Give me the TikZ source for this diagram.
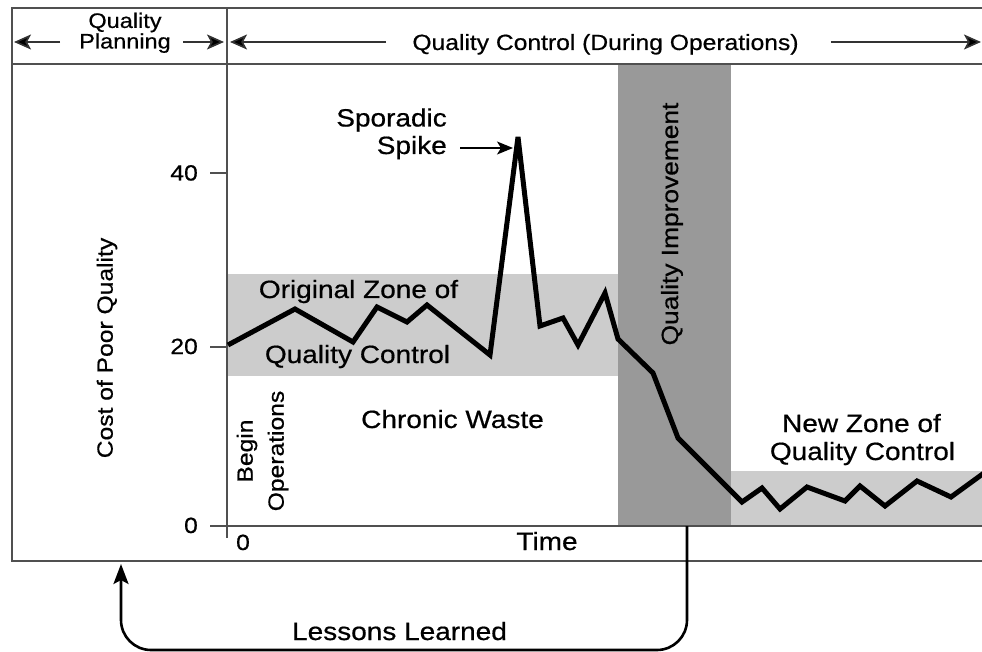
\documentclass[tikz,border=0pt]{standalone}
\usepackage{fontspec}
\setmainfont{Liberation Sans}[FakeStretch=1.12,FakeBold=0.6]
\usetikzlibrary{arrows.meta}
\definecolor{zonegray}{HTML}{CCCCCC}
\definecolor{improvegray}{HTML}{999999}
\definecolor{framegray}{HTML}{505050}
\begin{document}
\begin{tikzpicture}[x=1pt,y=-1pt,
  lbl/.style={inner sep=0pt, font=\fontsize{25}{29}\selectfont},
  smalllbl/.style={inner sep=0pt, font=\fontsize{22}{26}\selectfont},
  framestyle/.style={draw=framegray, line width=1.6pt},
  datacurve/.style={line width=5pt, line join=miter, miter limit=4},
  hdrarrow/.style={draw=black!80, line width=1.6pt, -{Stealth[length=17pt,width=15pt,inset=4pt,fill=black]}},
  spikearrow/.style={line width=1.6pt, -{Stealth[length=16pt,width=13pt,inset=4pt]}},
  looparrow/.style={line width=2.6pt, rounded corners=30pt, -{Stealth[length=20pt,width=15pt,inset=4pt]}}
]
\useasboundingbox (0,0) rectangle (982,652);

% bands
\fill[zonegray] (227,274) rectangle (618,376);
\fill[zonegray] (731,471) rectangle (982,526);
\fill[improvegray] (618,64) rectangle (731,526);

% frame
\draw[framestyle] (982,8) -- (12,8) -- (12,561) -- (982,561);
\draw[framestyle] (12,64) -- (982,64);
\draw[framestyle] (227,8) -- (227,538);
\draw[framestyle] (227,526) -- (982,526);
% ticks
\draw[framestyle] (210,173) -- (227,173);
\draw[framestyle] (210,347) -- (227,347);
\draw[framestyle] (210,526) -- (227,526);

% header texts and arrows
\node[inner sep=0pt, align=center, font=\fontsize{21}{19}\selectfont, anchor=base] (qp) at (125,48.5) {Quality\\Planning};
\coordinate (qpL) at (14,42);
\coordinate (qpR) at (224,42);
\draw[hdrarrow] (60,42) -- (qpL);
\draw[hdrarrow] (183,42) -- (qpR);
\node[smalllbl, anchor=base] (qc) at (605.5,50) {Quality Control (During Operations)};
\coordinate (qcL) at (230,42);
\coordinate (qcR) at (981,42);
\draw[hdrarrow] ([xshift=-26pt]qc.west |- qcL) -- (qcL);
\draw[hdrarrow] ([xshift=32pt]qc.east |- qcR) -- (qcR);

% axis labels
\node[smalllbl, anchor=base east] (y40) at (198,180.5) {40};
\node[smalllbl, anchor=base east] (y20) at (198,354) {20};
\node[smalllbl, anchor=base east] (y0) at (198,533) {0};
\node[smalllbl, anchor=base] (x0) at (243,550) {0};
\node[lbl, anchor=base] (time) at (547,550) {Time};
\node[smalllbl, rotate=90] (ylabel) at (107,348) {Cost of Poor Quality};

% data curve
\draw[datacurve] (228,345) -- (295,309) -- (353,342) -- (377,307) -- (407,322)
  -- (427,305) -- (490,355) -- (518,137) -- (540,326) -- (563,318) -- (578,345)
  -- (605,293) -- (618,339) -- (653,373) -- (678,438) -- (742,502) -- (762,488)
  -- (780,509) -- (807,487) -- (845,501) -- (860,486) -- (885,506) -- (917,481)
  -- (951,497) -- (984,473);
\coordinate (spiketip) at (513,148);

% chart labels
\node[lbl, anchor=base east] (sp1) at (447,126.5) {Sporadic};
\node[lbl, anchor=base east] (sp2) at (447,154) {Spike};
\draw[spikearrow] ([xshift=13pt]sp2.east |- spiketip) -- (spiketip);
\node[lbl, anchor=base] (oz1) at (358.5,298) {Original Zone of};
\node[lbl, anchor=base] (oz2) at (357.5,363) {Quality Control};
\node[lbl, anchor=base] (cw) at (452.5,428) {Chronic Waste};
\node[smalllbl, rotate=90] (bo1) at (247,451) {Begin};
\node[smalllbl, rotate=90] (bo2) at (278,451) {Operations};
\node[inner sep=0pt, font=\fontsize{23.5}{28}\selectfont, rotate=90] (qi) at (672,224) {Quality Improvement};
\node[lbl, anchor=base] (nz1) at (861.5,432) {New Zone of};
\node[lbl, anchor=base] (nz2) at (862.5,460) {Quality Control};

% lessons learned loop
\coordinate (qibottom) at (687,526);
\coordinate (qpbottom) at (121,564);
\draw[looparrow] (qibottom) -- (687,650) -- (121,650) -- (qpbottom);
\node[lbl, anchor=base] (ll) at (399.5,640) {Lessons Learned};
\end{tikzpicture}
\end{document}
